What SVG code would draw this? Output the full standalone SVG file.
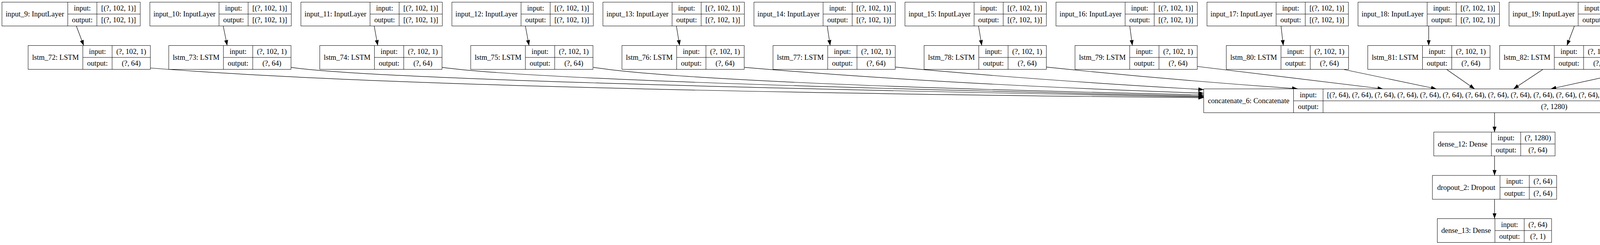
<svg xmlns="http://www.w3.org/2000/svg" width="7711" height="627" viewBox="0 0 7711 627">
<style>
rect.b{fill:#fff;stroke:#000;stroke-width:1}
path.d{fill:none;stroke:#000;stroke-width:1}
text{font-family:"Liberation Serif","Times New Roman",serif;font-size:18.67px;text-anchor:middle;fill:#000}
#edges path{fill:none;stroke:#000;stroke-width:1.2;marker-end:url(#ah)}
</style>
<defs>
<marker id="ah" markerUnits="userSpaceOnUse" markerWidth="14" markerHeight="10" viewBox="0 0 13 9.4" refX="13" refY="4.7" orient="auto"><path d="M0,0L13,4.7L0,9.4z" fill="#000"/></marker>
</defs>
<rect width="7711" height="627" fill="#fff"/>
<g id="edges">
<path d="M195.4,66.5L214.3,116.5"/>
<path d="M571.4,66.5L581.6,116.5"/>
<path d="M957.9,66.5L967,116.5"/>
<path d="M1345,66.5L1354.2,116.5"/>
<path d="M1731.5,66.5L1739.8,116.5"/>
<path d="M2117.7,66.5L2125.2,116.5"/>
<path d="M2505,66.5L2513.3,116.5"/>
<path d="M2892.2,66.5L2898.8,116.5"/>
<path d="M3279.4,66.5L3285.2,116.5"/>
<path d="M3657.5,66.5L3657.5,116.5"/>
<path d="M4030.5,66.5L4011.4,116.5"/>
<path d="M4403.6,66.5L4363.8,116.5"/>
<path d="M4776.6,66.5L4716,116.5"/>
<path d="M5151.4,66.5L5070.1,116.5"/>
<path d="M5526.2,66.5L5427.5,116.5"/>
<path d="M5901,66.5L5788.2,116.5"/>
<path d="M6285.6,66.5L6163.7,116.5"/>
<path d="M6675.3,66.5L6560.9,116.5"/>
<path d="M7082,66.5L7000,116.5"/>
<path d="M7523.8,66.5L7523.8,116.5"/>
<path d="M385,174Q1100,231 3081.5,250"/>
<path d="M745,172.3Q1000,210 3081.5,248"/>
<path d="M1132,172.3Q1400,210 3081.5,246"/>
<path d="M1519,172.3Q1800,215 3081.5,243"/>
<path d="M1905.6,172.3Q2400,215 3081.5,238.5"/>
<path d="M2291.9,171.7Q2650,205 3081.5,229.3"/>
<path d="M2678.3,171.7Q3000,205 3321.7,227"/>
<path d="M3064.7,170L3540.5,227.5"/>
<path d="M3441,178L3677.3,227.5"/>
<path d="M3703.8,178L3775,227.5"/>
<path d="M3949.3,178L3874.6,227.5"/>
<path d="M4195.5,178L3970,227.5"/>
<path d="M4515.6,177L4120.9,227.5"/>
<path d="M4857.9,177Q4700,190 4331.7,227"/>
<path d="M5202.8,176Q4800,218 4570.5,229.3"/>
<path d="M5556,175Q4950,228 4570.5,240"/>
<path d="M5924,175Q5300,235 4570.5,246"/>
<path d="M6322.9,171.7Q5500,230 4570.5,247.5"/>
<path d="M6783,166.7Q5600,240 4570.5,249"/>
<path d="M7366,161.7Q6100,236 4570.5,250.5"/>
<path d="M3826,288.5V338"/>
<path d="M3826,399V449"/>
<path d="M3826,510V559.5"/>
</g>
<g id="input_9"><rect class="b" x="5" y="5.5" width="354" height="61"/><path class="d" d="M173.5,5.5V66.5M248,5.5V66.5M173.5,36H359"/><text x="89.25" y="42">input_9: InputLayer</text><text x="210.75" y="26.75">input:</text><text x="303.5" y="26.75">[(?, 102, 1)]</text><text x="210.75" y="57.25">output:</text><text x="303.5" y="57.25">[(?, 102, 1)]</text></g>
<g id="input_10"><rect class="b" x="383.7" y="5.5" width="362" height="61"/><path class="d" d="M560.7,5.5V66.5M635.2,5.5V66.5M560.7,36H745.7"/><text x="472.2" y="42">input_10: InputLayer</text><text x="598" y="26.75">input:</text><text x="690.5" y="26.75">[(?, 102, 1)]</text><text x="598" y="57.25">output:</text><text x="690.5" y="57.25">[(?, 102, 1)]</text></g>
<g id="input_11"><rect class="b" x="770.3" y="5.5" width="362" height="61"/><path class="d" d="M947.3,5.5V66.5M1021.8,5.5V66.5M947.3,36H1132.3"/><text x="858.8" y="42">input_11: InputLayer</text><text x="984.6" y="26.75">input:</text><text x="1077.1" y="26.75">[(?, 102, 1)]</text><text x="984.6" y="57.25">output:</text><text x="1077.1" y="57.25">[(?, 102, 1)]</text></g>
<g id="input_12"><rect class="b" x="1156.9" y="5.5" width="362" height="61"/><path class="d" d="M1333.9,5.5V66.5M1408.4,5.5V66.5M1333.9,36H1518.9"/><text x="1245.4" y="42">input_12: InputLayer</text><text x="1371.2" y="26.75">input:</text><text x="1463.7" y="26.75">[(?, 102, 1)]</text><text x="1371.2" y="57.25">output:</text><text x="1463.7" y="57.25">[(?, 102, 1)]</text></g>
<g id="input_13"><rect class="b" x="1543.5" y="5.5" width="362" height="61"/><path class="d" d="M1720.5,5.5V66.5M1795,5.5V66.5M1720.5,36H1905.5"/><text x="1632" y="42">input_13: InputLayer</text><text x="1757.8" y="26.75">input:</text><text x="1850.3" y="26.75">[(?, 102, 1)]</text><text x="1757.8" y="57.25">output:</text><text x="1850.3" y="57.25">[(?, 102, 1)]</text></g>
<g id="input_14"><rect class="b" x="1930.1" y="5.5" width="362" height="61"/><path class="d" d="M2107.1,5.5V66.5M2181.6,5.5V66.5M2107.1,36H2292.1"/><text x="2018.6" y="42">input_14: InputLayer</text><text x="2144.4" y="26.75">input:</text><text x="2236.9" y="26.75">[(?, 102, 1)]</text><text x="2144.4" y="57.25">output:</text><text x="2236.9" y="57.25">[(?, 102, 1)]</text></g>
<g id="input_15"><rect class="b" x="2316.7" y="5.5" width="362" height="61"/><path class="d" d="M2493.7,5.5V66.5M2568.2,5.5V66.5M2493.7,36H2678.7"/><text x="2405.2" y="42">input_15: InputLayer</text><text x="2531" y="26.75">input:</text><text x="2623.5" y="26.75">[(?, 102, 1)]</text><text x="2531" y="57.25">output:</text><text x="2623.5" y="57.25">[(?, 102, 1)]</text></g>
<g id="input_16"><rect class="b" x="2703.3" y="5.5" width="362" height="61"/><path class="d" d="M2880.3,5.5V66.5M2954.8,5.5V66.5M2880.3,36H3065.3"/><text x="2791.8" y="42">input_16: InputLayer</text><text x="2917.6" y="26.75">input:</text><text x="3010.1" y="26.75">[(?, 102, 1)]</text><text x="2917.6" y="57.25">output:</text><text x="3010.1" y="57.25">[(?, 102, 1)]</text></g>
<g id="input_17"><rect class="b" x="3089.9" y="5.5" width="362" height="61"/><path class="d" d="M3266.9,5.5V66.5M3341.4,5.5V66.5M3266.9,36H3451.9"/><text x="3178.4" y="42">input_17: InputLayer</text><text x="3304.2" y="26.75">input:</text><text x="3396.7" y="26.75">[(?, 102, 1)]</text><text x="3304.2" y="57.25">output:</text><text x="3396.7" y="57.25">[(?, 102, 1)]</text></g>
<g id="input_18"><rect class="b" x="3476.5" y="5.5" width="362" height="61"/><path class="d" d="M3653.5,5.5V66.5M3728,5.5V66.5M3653.5,36H3838.5"/><text x="3565" y="42">input_18: InputLayer</text><text x="3690.8" y="26.75">input:</text><text x="3783.3" y="26.75">[(?, 102, 1)]</text><text x="3690.8" y="57.25">output:</text><text x="3783.3" y="57.25">[(?, 102, 1)]</text></g>
<g id="input_19"><rect class="b" x="3863.1" y="5.5" width="362" height="61"/><path class="d" d="M4040.1,5.5V66.5M4114.6,5.5V66.5M4040.1,36H4225.1"/><text x="3951.6" y="42">input_19: InputLayer</text><text x="4077.4" y="26.75">input:</text><text x="4169.9" y="26.75">[(?, 102, 1)]</text><text x="4077.4" y="57.25">output:</text><text x="4169.9" y="57.25">[(?, 102, 1)]</text></g>
<g id="input_20"><rect class="b" x="4249.7" y="5.5" width="362" height="61"/><path class="d" d="M4426.7,5.5V66.5M4501.2,5.5V66.5M4426.7,36H4611.7"/><text x="4338.2" y="42">input_20: InputLayer</text><text x="4464" y="26.75">input:</text><text x="4556.5" y="26.75">[(?, 102, 1)]</text><text x="4464" y="57.25">output:</text><text x="4556.5" y="57.25">[(?, 102, 1)]</text></g>
<g id="input_21"><rect class="b" x="4636.3" y="5.5" width="362" height="61"/><path class="d" d="M4813.3,5.5V66.5M4887.8,5.5V66.5M4813.3,36H4998.3"/><text x="4724.8" y="42">input_21: InputLayer</text><text x="4850.6" y="26.75">input:</text><text x="4943.1" y="26.75">[(?, 102, 1)]</text><text x="4850.6" y="57.25">output:</text><text x="4943.1" y="57.25">[(?, 102, 1)]</text></g>
<g id="input_22"><rect class="b" x="5022.9" y="5.5" width="362" height="61"/><path class="d" d="M5199.9,5.5V66.5M5274.4,5.5V66.5M5199.9,36H5384.9"/><text x="5111.4" y="42">input_22: InputLayer</text><text x="5237.2" y="26.75">input:</text><text x="5329.7" y="26.75">[(?, 102, 1)]</text><text x="5237.2" y="57.25">output:</text><text x="5329.7" y="57.25">[(?, 102, 1)]</text></g>
<g id="input_23"><rect class="b" x="5409.5" y="5.5" width="362" height="61"/><path class="d" d="M5586.5,5.5V66.5M5661,5.5V66.5M5586.5,36H5771.5"/><text x="5498" y="42">input_23: InputLayer</text><text x="5623.8" y="26.75">input:</text><text x="5716.3" y="26.75">[(?, 102, 1)]</text><text x="5623.8" y="57.25">output:</text><text x="5716.3" y="57.25">[(?, 102, 1)]</text></g>
<g id="input_24"><rect class="b" x="5796.1" y="5.5" width="362" height="61"/><path class="d" d="M5973.1,5.5V66.5M6047.6,5.5V66.5M5973.1,36H6158.1"/><text x="5884.6" y="42">input_24: InputLayer</text><text x="6010.4" y="26.75">input:</text><text x="6102.9" y="26.75">[(?, 102, 1)]</text><text x="6010.4" y="57.25">output:</text><text x="6102.9" y="57.25">[(?, 102, 1)]</text></g>
<g id="input_25"><rect class="b" x="6182.7" y="5.5" width="362" height="61"/><path class="d" d="M6359.7,5.5V66.5M6434.2,5.5V66.5M6359.7,36H6544.7"/><text x="6271.2" y="42">input_25: InputLayer</text><text x="6397" y="26.75">input:</text><text x="6489.5" y="26.75">[(?, 102, 1)]</text><text x="6397" y="57.25">output:</text><text x="6489.5" y="57.25">[(?, 102, 1)]</text></g>
<g id="input_26"><rect class="b" x="6569.3" y="5.5" width="362" height="61"/><path class="d" d="M6746.3,5.5V66.5M6820.8,5.5V66.5M6746.3,36H6931.3"/><text x="6657.8" y="42">input_26: InputLayer</text><text x="6783.6" y="26.75">input:</text><text x="6876.1" y="26.75">[(?, 102, 1)]</text><text x="6783.6" y="57.25">output:</text><text x="6876.1" y="57.25">[(?, 102, 1)]</text></g>
<g id="input_27"><rect class="b" x="6955.9" y="5.5" width="362" height="61"/><path class="d" d="M7132.9,5.5V66.5M7207.4,5.5V66.5M7132.9,36H7317.9"/><text x="7044.4" y="42">input_27: InputLayer</text><text x="7170.2" y="26.75">input:</text><text x="7262.7" y="26.75">[(?, 102, 1)]</text><text x="7170.2" y="57.25">output:</text><text x="7262.7" y="57.25">[(?, 102, 1)]</text></g>
<g id="input_28"><rect class="b" x="7342.5" y="5.5" width="362" height="61"/><path class="d" d="M7519.5,5.5V66.5M7594,5.5V66.5M7519.5,36H7704.5"/><text x="7431" y="42">input_28: InputLayer</text><text x="7556.8" y="26.75">input:</text><text x="7649.3" y="26.75">[(?, 102, 1)]</text><text x="7556.8" y="57.25">output:</text><text x="7649.3" y="57.25">[(?, 102, 1)]</text></g>
<g id="lstm_72"><rect class="b" x="72" y="116.5" width="313" height="61"/><path class="d" d="M212,116.5V177.5M287,116.5V177.5M212,147H385"/><text x="142" y="153">lstm_72: LSTM</text><text x="249.5" y="137.75">input:</text><text x="336" y="137.75">(?, 102, 1)</text><text x="249.5" y="168.25">output:</text><text x="336" y="168.25">(?, 64)</text></g>
<g id="lstm_73"><rect class="b" x="432" y="116.5" width="313" height="61"/><path class="d" d="M572,116.5V177.5M647,116.5V177.5M572,147H745"/><text x="502" y="153">lstm_73: LSTM</text><text x="609.5" y="137.75">input:</text><text x="696" y="137.75">(?, 102, 1)</text><text x="609.5" y="168.25">output:</text><text x="696" y="168.25">(?, 64)</text></g>
<g id="lstm_74"><rect class="b" x="818.6" y="116.5" width="313" height="61"/><path class="d" d="M958.6,116.5V177.5M1033.6,116.5V177.5M958.6,147H1131.6"/><text x="888.6" y="153">lstm_74: LSTM</text><text x="996.1" y="137.75">input:</text><text x="1082.6" y="137.75">(?, 102, 1)</text><text x="996.1" y="168.25">output:</text><text x="1082.6" y="168.25">(?, 64)</text></g>
<g id="lstm_75"><rect class="b" x="1205" y="116.5" width="313" height="61"/><path class="d" d="M1345,116.5V177.5M1420,116.5V177.5M1345,147H1518"/><text x="1275" y="153">lstm_75: LSTM</text><text x="1382.5" y="137.75">input:</text><text x="1469" y="137.75">(?, 102, 1)</text><text x="1382.5" y="168.25">output:</text><text x="1469" y="168.25">(?, 64)</text></g>
<g id="lstm_76"><rect class="b" x="1592.2" y="116.5" width="313" height="61"/><path class="d" d="M1732.2,116.5V177.5M1807.2,116.5V177.5M1732.2,147H1905.2"/><text x="1662.2" y="153">lstm_76: LSTM</text><text x="1769.7" y="137.75">input:</text><text x="1856.2" y="137.75">(?, 102, 1)</text><text x="1769.7" y="168.25">output:</text><text x="1856.2" y="168.25">(?, 64)</text></g>
<g id="lstm_77"><rect class="b" x="1978.9" y="116.5" width="313" height="61"/><path class="d" d="M2118.9,116.5V177.5M2193.9,116.5V177.5M2118.9,147H2291.9"/><text x="2048.9" y="153">lstm_77: LSTM</text><text x="2156.4" y="137.75">input:</text><text x="2242.9" y="137.75">(?, 102, 1)</text><text x="2156.4" y="168.25">output:</text><text x="2242.9" y="168.25">(?, 64)</text></g>
<g id="lstm_78"><rect class="b" x="2365.7" y="116.5" width="313" height="61"/><path class="d" d="M2505.7,116.5V177.5M2580.7,116.5V177.5M2505.7,147H2678.7"/><text x="2435.7" y="153">lstm_78: LSTM</text><text x="2543.2" y="137.75">input:</text><text x="2629.7" y="137.75">(?, 102, 1)</text><text x="2543.2" y="168.25">output:</text><text x="2629.7" y="168.25">(?, 64)</text></g>
<g id="lstm_79"><rect class="b" x="2752" y="116.5" width="313" height="61"/><path class="d" d="M2892,116.5V177.5M2967,116.5V177.5M2892,147H3065"/><text x="2822" y="153">lstm_79: LSTM</text><text x="2929.5" y="137.75">input:</text><text x="3016" y="137.75">(?, 102, 1)</text><text x="2929.5" y="168.25">output:</text><text x="3016" y="168.25">(?, 64)</text></g>
<g id="lstm_80"><rect class="b" x="3139.3" y="116.5" width="313" height="61"/><path class="d" d="M3279.3,116.5V177.5M3354.3,116.5V177.5M3279.3,147H3452.3"/><text x="3209.3" y="153">lstm_80: LSTM</text><text x="3316.8" y="137.75">input:</text><text x="3403.3" y="137.75">(?, 102, 1)</text><text x="3316.8" y="168.25">output:</text><text x="3403.3" y="168.25">(?, 64)</text></g>
<g id="lstm_81"><rect class="b" x="3501.5" y="116.5" width="313" height="61"/><path class="d" d="M3641.5,116.5V177.5M3716.5,116.5V177.5M3641.5,147H3814.5"/><text x="3571.5" y="153">lstm_81: LSTM</text><text x="3679" y="137.75">input:</text><text x="3765.5" y="137.75">(?, 102, 1)</text><text x="3679" y="168.25">output:</text><text x="3765.5" y="168.25">(?, 64)</text></g>
<g id="lstm_82"><rect class="b" x="3839" y="116.5" width="313" height="61"/><path class="d" d="M3979,116.5V177.5M4054,116.5V177.5M3979,147H4152"/><text x="3909" y="153">lstm_82: LSTM</text><text x="4016.5" y="137.75">input:</text><text x="4103" y="137.75">(?, 102, 1)</text><text x="4016.5" y="168.25">output:</text><text x="4103" y="168.25">(?, 64)</text></g>
<g id="lstm_83"><rect class="b" x="4178" y="116.5" width="313" height="61"/><path class="d" d="M4318,116.5V177.5M4393,116.5V177.5M4318,147H4491"/><text x="4248" y="153">lstm_83: LSTM</text><text x="4355.5" y="137.75">input:</text><text x="4442" y="137.75">(?, 102, 1)</text><text x="4355.5" y="168.25">output:</text><text x="4442" y="168.25">(?, 64)</text></g>
<g id="lstm_84"><rect class="b" x="4515.6" y="116.5" width="313" height="61"/><path class="d" d="M4655.6,116.5V177.5M4730.6,116.5V177.5M4655.6,147H4828.6"/><text x="4585.6" y="153">lstm_84: LSTM</text><text x="4693.1" y="137.75">input:</text><text x="4779.6" y="137.75">(?, 102, 1)</text><text x="4693.1" y="168.25">output:</text><text x="4779.6" y="168.25">(?, 64)</text></g>
<g id="lstm_85"><rect class="b" x="4857.9" y="116.5" width="313" height="61"/><path class="d" d="M4997.9,116.5V177.5M5072.9,116.5V177.5M4997.9,147H5170.9"/><text x="4927.9" y="153">lstm_85: LSTM</text><text x="5035.4" y="137.75">input:</text><text x="5121.9" y="137.75">(?, 102, 1)</text><text x="5035.4" y="168.25">output:</text><text x="5121.9" y="168.25">(?, 64)</text></g>
<g id="lstm_86"><rect class="b" x="5202.8" y="116.5" width="313" height="61"/><path class="d" d="M5342.8,116.5V177.5M5417.8,116.5V177.5M5342.8,147H5515.8"/><text x="5272.8" y="153">lstm_86: LSTM</text><text x="5380.3" y="137.75">input:</text><text x="5466.8" y="137.75">(?, 102, 1)</text><text x="5380.3" y="168.25">output:</text><text x="5466.8" y="168.25">(?, 64)</text></g>
<g id="lstm_87"><rect class="b" x="5556" y="116.5" width="313" height="61"/><path class="d" d="M5696,116.5V177.5M5771,116.5V177.5M5696,147H5869"/><text x="5626" y="153">lstm_87: LSTM</text><text x="5733.5" y="137.75">input:</text><text x="5820" y="137.75">(?, 102, 1)</text><text x="5733.5" y="168.25">output:</text><text x="5820" y="168.25">(?, 64)</text></g>
<g id="lstm_88"><rect class="b" x="5924" y="116.5" width="313" height="61"/><path class="d" d="M6064,116.5V177.5M6139,116.5V177.5M6064,147H6237"/><text x="5994" y="153">lstm_88: LSTM</text><text x="6101.5" y="137.75">input:</text><text x="6188" y="137.75">(?, 102, 1)</text><text x="6101.5" y="168.25">output:</text><text x="6188" y="168.25">(?, 64)</text></g>
<g id="lstm_89"><rect class="b" x="6322.9" y="116.5" width="313" height="61"/><path class="d" d="M6462.9,116.5V177.5M6537.9,116.5V177.5M6462.9,147H6635.9"/><text x="6392.9" y="153">lstm_89: LSTM</text><text x="6500.4" y="137.75">input:</text><text x="6586.9" y="137.75">(?, 102, 1)</text><text x="6500.4" y="168.25">output:</text><text x="6586.9" y="168.25">(?, 64)</text></g>
<g id="lstm_90"><rect class="b" x="6783" y="116.5" width="313" height="61"/><path class="d" d="M6923,116.5V177.5M6998,116.5V177.5M6923,147H7096"/><text x="6853" y="153">lstm_90: LSTM</text><text x="6960.5" y="137.75">input:</text><text x="7047" y="137.75">(?, 102, 1)</text><text x="6960.5" y="168.25">output:</text><text x="7047" y="168.25">(?, 64)</text></g>
<g id="lstm_91"><rect class="b" x="7366" y="116.5" width="313" height="61"/><path class="d" d="M7506,116.5V177.5M7581,116.5V177.5M7506,147H7679"/><text x="7436" y="153">lstm_91: LSTM</text><text x="7543.5" y="137.75">input:</text><text x="7630" y="137.75">(?, 102, 1)</text><text x="7543.5" y="168.25">output:</text><text x="7630" y="168.25">(?, 64)</text></g>
<g id="concatenate_6"><rect class="b" x="3081.5" y="227.5" width="1489" height="61"/><path class="d" d="M3311.5,227.5V288.5M3387,227.5V288.5M3311.5,258H4570.5"/><text x="3196.5" y="264">concatenate_6: Concatenate</text><text x="3349.25" y="248.75">input:</text><text x="3978.75" y="248.75">[(?, 64), (?, 64), (?, 64), (?, 64), (?, 64), (?, 64), (?, 64), (?, 64), (?, 64), (?, 64), (?, 64), (?, 64), (?, 64), (?, 64), (?, 64), (?, 64), (?, 64), (?, 64), (?, 64), (?, 64)]</text><text x="3349.25" y="279.25">output:</text><text x="3978.75" y="279.25">(?, 1280)</text></g>
<g id="dense_12"><rect class="b" x="3670.5" y="338" width="310.5" height="61"/><path class="d" d="M3818,338V399M3893,338V399M3818,368.5H3981"/><text x="3744.25" y="374.5">dense_12: Dense</text><text x="3855.5" y="359.25">input:</text><text x="3937" y="359.25">(?, 1280)</text><text x="3855.5" y="389.75">output:</text><text x="3937" y="389.75">(?, 64)</text></g>
<g id="dropout_2"><rect class="b" x="3667" y="449" width="318" height="61"/><path class="d" d="M3840,449V510M3915,449V510M3840,479.5H3985"/><text x="3753.5" y="485.5">dropout_2: Dropout</text><text x="3877.5" y="470.25">input:</text><text x="3950" y="470.25">(?, 64)</text><text x="3877.5" y="500.75">output:</text><text x="3950" y="500.75">(?, 64)</text></g>
<g id="dense_13"><rect class="b" x="3679.5" y="559.5" width="292.5" height="61"/><path class="d" d="M3827,559.5V620.5M3902,559.5V620.5M3827,590H3972"/><text x="3753.25" y="596">dense_13: Dense</text><text x="3864.5" y="580.75">input:</text><text x="3937" y="580.75">(?, 64)</text><text x="3864.5" y="611.25">output:</text><text x="3937" y="611.25">(?, 1)</text></g>
</svg>
